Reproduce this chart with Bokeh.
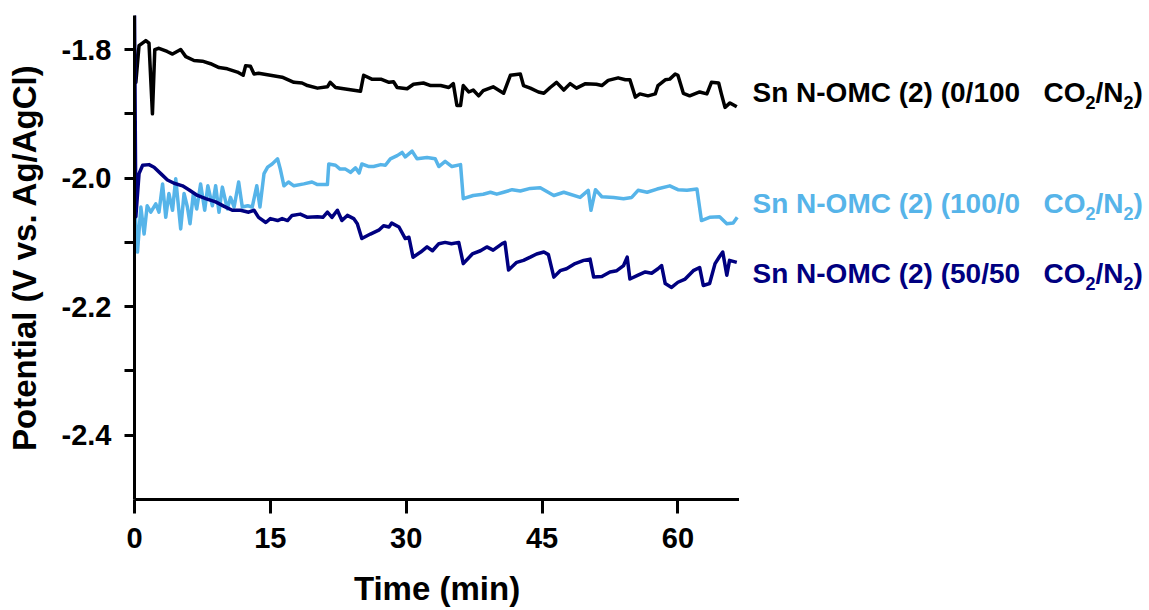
from bokeh.plotting import figure
from bokeh.layouts import row
from bokeh.models import Range1d, FixedTicker, Label, CustomJSTickFormatter
from bokeh.embed import file_html
from bokeh.resources import INLINE

# ---- data ----
t_0_100 = [0, 0.15, 0.5, 1.25, 1.6, 1.98, 2.24, 2.7, 3.6, 4.2, 5.1, 5.66, 6.57, 7.5, 8.4, 9.33,
           10.25, 11.36, 12.0, 12.27, 12.8, 13.2, 13.7, 15.0, 16.3, 17.6, 18.5, 19.1, 20.2, 21.3,
           21.6, 22.2, 23.1, 24.95, 25.3, 26.2, 27.2, 28.1, 28.6, 29.0, 30.1, 30.8, 31.9, 32.7,
           33.8, 34.7, 35.2, 35.6, 36.0, 36.3, 36.9, 37.4, 38.0, 38.5, 39.6, 40.75, 41.5, 42.6,
           42.95, 43.7, 44.6, 45.2, 45.9, 46.6, 47.4, 48.1, 48.8, 49.8, 51.0, 51.6, 52.3, 53.4,
           54.2, 54.7, 55.3, 55.8, 56.7, 57.5, 57.8, 58.6, 59.1, 59.7, 60.0, 60.6, 61.3, 62.4,
           63.2, 63.7, 64.5, 64.8, 65.2, 65.75, 66.5]
v_0_100 = [-1.80, -1.851, -1.794, -1.786, -1.79, -1.900, -1.80, -1.798, -1.803, -1.807, -1.80,
           -1.811, -1.817, -1.818, -1.822, -1.828, -1.830, -1.835, -1.840, -1.825, -1.826, -1.838,
           -1.837, -1.840, -1.843, -1.851, -1.852, -1.856, -1.860, -1.858, -1.851, -1.859, -1.861,
           -1.865, -1.840, -1.846, -1.846, -1.851, -1.850, -1.859, -1.861, -1.854, -1.852, -1.856,
           -1.856, -1.859, -1.853, -1.887, -1.887, -1.856, -1.866, -1.863, -1.872, -1.864, -1.858,
           -1.868, -1.840, -1.838, -1.856, -1.860, -1.866, -1.868, -1.859, -1.851, -1.863, -1.853,
           -1.860, -1.853, -1.854, -1.856, -1.848, -1.844, -1.847, -1.847, -1.874, -1.869, -1.872,
           -1.869, -1.856, -1.847, -1.846, -1.838, -1.840, -1.868, -1.872, -1.866, -1.869, -1.851,
           -1.852, -1.869, -1.890, -1.883, -1.889]

t_100_0 = [0, 0.33, 0.7, 1.06, 1.4, 1.8, 2.35, 2.7, 3.1, 3.45, 3.8, 4.2, 4.55, 5.1, 5.47, 5.84,
           6.13, 6.5, 6.87, 7.3, 7.75, 8.1, 8.6, 8.96, 9.33, 9.7, 10.25, 10.6, 11.0, 11.5, 11.9,
           12.5, 13.0, 13.5, 13.85, 14.3, 14.7, 15.2, 15.8, 16.1, 16.5, 17.0, 17.6, 18.7, 19.6,
           20.2, 21.3, 21.45, 22.2, 22.7, 23.3, 23.85, 24.4, 24.8, 25.1, 25.9, 26.4, 27.2, 27.7,
           28.25, 29.0, 29.55, 29.9, 30.65, 31.2, 32.3, 33.2, 33.6, 34.3, 35.05, 36.0, 36.3, 37.4,
           38.5, 39.3, 40.0, 40.75, 41.7, 42.6, 43.7, 44.8, 46.3, 47.4, 49.2, 50.1, 50.4, 50.9,
           51.6, 52.9, 54.0, 54.9, 55.6, 56.6, 57.7, 59.1, 60.0, 61.0, 62.1, 62.6, 63.5, 64.6,
           65.4, 66.1, 66.55]
v_100_0 = [-2.035, -2.115, -2.045, -2.087, -2.043, -2.053, -2.040, -2.053, -2.009, -2.061, -2.024,
           -2.050, -2.001, -2.079, -2.024, -2.045, -2.071, -2.024, -2.048, -2.009, -2.050, -2.012,
           -2.043, -2.012, -2.053, -2.014, -2.048, -2.030, -2.045, -2.006, -2.045, -2.043, -2.045,
           -2.012, -2.045, -1.993, -1.983, -1.978, -1.970, -1.986, -2.012, -2.006, -2.012, -2.009,
           -2.006, -2.010, -2.010, -1.978, -1.980, -1.986, -1.986, -1.991, -1.984, -1.992, -1.978,
           -1.982, -1.982, -1.979, -1.980, -1.970, -1.965, -1.960, -1.967, -1.958, -1.970, -1.968,
           -1.970, -1.982, -1.974, -1.982, -1.979, -2.032, -2.027, -2.025, -2.022, -2.025, -2.022,
           -2.018, -2.020, -2.016, -2.015, -2.027, -2.022, -2.030, -2.019, -2.050, -2.018, -2.029,
           -2.030, -2.032, -2.030, -2.019, -2.022, -2.017, -2.012, -2.018, -2.019, -2.017, -2.066,
           -2.061, -2.060, -2.071, -2.070, -2.061]

t_50_50 = [0, 0.15, 0.5, 0.9, 1.6, 2.16, 2.9, 3.64, 4.37, 5.3, 6.0, 6.95, 7.86, 8.96, 9.9, 10.8,
           11.7, 12.6, 13.2, 13.7, 14.5, 15.0, 15.8, 16.3, 16.9, 17.4, 18.3, 19.1, 20.2, 20.8,
           21.3, 21.8, 22.4, 22.9, 23.5, 24.2, 24.6, 25.1, 26.05, 26.97, 27.5, 28.1, 28.4, 29.2,
           29.9, 30.3, 30.75, 31.6, 32.3, 32.9, 33.6, 34.3, 35.0, 35.8, 36.3, 37.3, 38.2, 38.9,
           39.6, 40.6, 40.9, 41.3, 42.2, 42.95, 43.7, 44.4, 45.2, 45.7, 46.3, 47.0, 47.7, 48.65,
           49.6, 50.3, 50.7, 51.6, 52.5, 53.25, 54.0, 54.4, 54.7, 55.6, 56.4, 57.1, 57.8, 58.2,
           58.6, 59.3, 60.0, 60.8, 61.7, 62.4, 62.8, 63.5, 64.1, 64.6, 64.95, 65.4, 65.7, 66.5]
v_50_50 = [-1.74, -2.06, -1.993, -1.980, -1.979, -1.983, -1.993, -2.003, -2.008, -2.012, -2.018,
           -2.027, -2.032, -2.037, -2.044, -2.050, -2.050, -2.053, -2.050, -2.061, -2.069, -2.063,
           -2.066, -2.063, -2.066, -2.058, -2.056, -2.061, -2.060, -2.061, -2.053, -2.061, -2.050,
           -2.066, -2.058, -2.063, -2.071, -2.094, -2.087, -2.081, -2.074, -2.076, -2.070, -2.076,
           -2.094, -2.092, -2.123, -2.115, -2.107, -2.113, -2.102, -2.100, -2.102, -2.100, -2.133,
           -2.118, -2.113, -2.107, -2.112, -2.102, -2.100, -2.143, -2.131, -2.128, -2.123, -2.118,
           -2.115, -2.119, -2.154, -2.144, -2.141, -2.133, -2.128, -2.126, -2.154, -2.153, -2.146,
           -2.144, -2.136, -2.123, -2.157, -2.151, -2.146, -2.148, -2.141, -2.136, -2.164, -2.170,
           -2.162, -2.157, -2.144, -2.139, -2.167, -2.164, -2.133, -2.122, -2.115, -2.151, -2.128,
           -2.131]

series_ratios = ["0/100", "100/0", "50/50"]
x_ticks = [0, 15, 30, 45, 60]
y_ticks = [-2.4, -2.2, -2.0, -1.8]
y_minor = [-2.3, -2.1, -1.9]

# ---- styling ----
FONT = "Liberation Sans"
colors = ["#000000", "#56B4E9", "#000080"]
label_y = [-1.8668, -2.0395, -2.1484]
LABEL_X_PX = 13
MAIN_PX = 28
SUB_PX = 18
SUB_SHIFT = -9.6
GAP_PX = 23.4
# Arial / Liberation Sans Bold advance widths (per 1000 em)
ADV = {" ": 278, "(": 333, ")": 333, "-": 333, "/": 278, "S": 667, "n": 611, "N": 722,
       "O": 778, "M": 833, "C": 722}
for d in "0123456789":
    ADV[d] = 556


def text_width(s, px):
    return sum(ADV[c] for c in s) * px / 1000.0


yr = Range1d(-2.5, -1.747)

p = figure(width=739, height=610, output_backend="svg", toolbar_location=None,
           x_range=Range1d(0, 66.8), y_range=yr,
           min_border_left=134, min_border_right=0, min_border_top=15, min_border_bottom=111)
p.outline_line_color = None
p.xgrid.visible = False
p.ygrid.visible = False
p.background_fill_color = "white"
p.border_fill_color = "white"

for ax in (p.xaxis[0], p.yaxis[0]):
    ax.axis_line_width = 3
    ax.axis_line_color = "black"
    ax.major_tick_line_width = 3
    ax.minor_tick_line_width = 3
    ax.major_tick_in = 0
    ax.minor_tick_in = 0
    ax.major_label_text_font = FONT
    ax.major_label_text_font_style = "bold"
    ax.major_label_text_font_size = "29px"
    ax.major_label_text_color = "black"
    ax.axis_label_text_font = FONT
    ax.axis_label_text_font_style = "bold"
    ax.axis_label_text_font_size = "33px"
    ax.axis_label_text_color = "black"

p.xaxis.ticker = FixedTicker(ticks=x_ticks, minor_ticks=[])
p.xaxis.major_tick_out = 14
p.xaxis.major_label_standoff = 14
p.xaxis.axis_label = "Time (min)"
p.xaxis.axis_label_standoff = 19

p.yaxis.ticker = FixedTicker(ticks=y_ticks, minor_ticks=y_minor)
p.yaxis.formatter = CustomJSTickFormatter(code="return tick.toFixed(1);")
p.yaxis.major_tick_out = 10
p.yaxis.minor_tick_out = 10
p.yaxis.major_label_standoff = 13
p.yaxis.axis_label = "Potential (V vs. Ag/AgCl)"
p.yaxis.axis_label_standoff = 16

for t, v, c in [(t_0_100, v_0_100, colors[0]), (t_100_0, v_100_0, colors[1]), (t_50_50, v_50_50, colors[2])]:
    p.line(t, v, line_color=c, line_width=3.5, line_join="round")

# right-hand panel holding the series labels (shares the y range)
q = figure(width=410, height=610, output_backend="svg", toolbar_location=None,
           x_range=Range1d(0, 410), y_range=yr, x_axis_type=None, y_axis_type=None,
           min_border_left=0, min_border_right=0, min_border_top=15, min_border_bottom=111)
q.outline_line_color = None
q.xgrid.visible = False
q.ygrid.visible = False
q.background_fill_color = "white"
q.border_fill_color = "white"

for ratio, c, ly in zip(series_ratios, colors, label_y):
    main = "Sn N-OMC (2) (" + ratio
    pieces = [(main, MAIN_PX, 0.0), ("CO", MAIN_PX, 0.0), ("2", SUB_PX, SUB_SHIFT),
              ("/N", MAIN_PX, 0.0), ("2", SUB_PX, SUB_SHIFT), (")", MAIN_PX, 0.0)]
    off = 0.0
    for k, (txt, px, dy) in enumerate(pieces):
        q.add_layout(Label(x=LABEL_X_PX, y=ly, x_offset=off, y_offset=dy, text=txt, text_color=c,
                           text_font=FONT, text_font_style="bold", text_font_size=f"{px}px",
                           text_baseline="middle", text_align="left"))
        off += text_width(txt, px)
        if k == 0:
            off += GAP_PX

layout = row(p, q, spacing=0)
open("out.html", "w").write(file_html(layout, INLINE))
